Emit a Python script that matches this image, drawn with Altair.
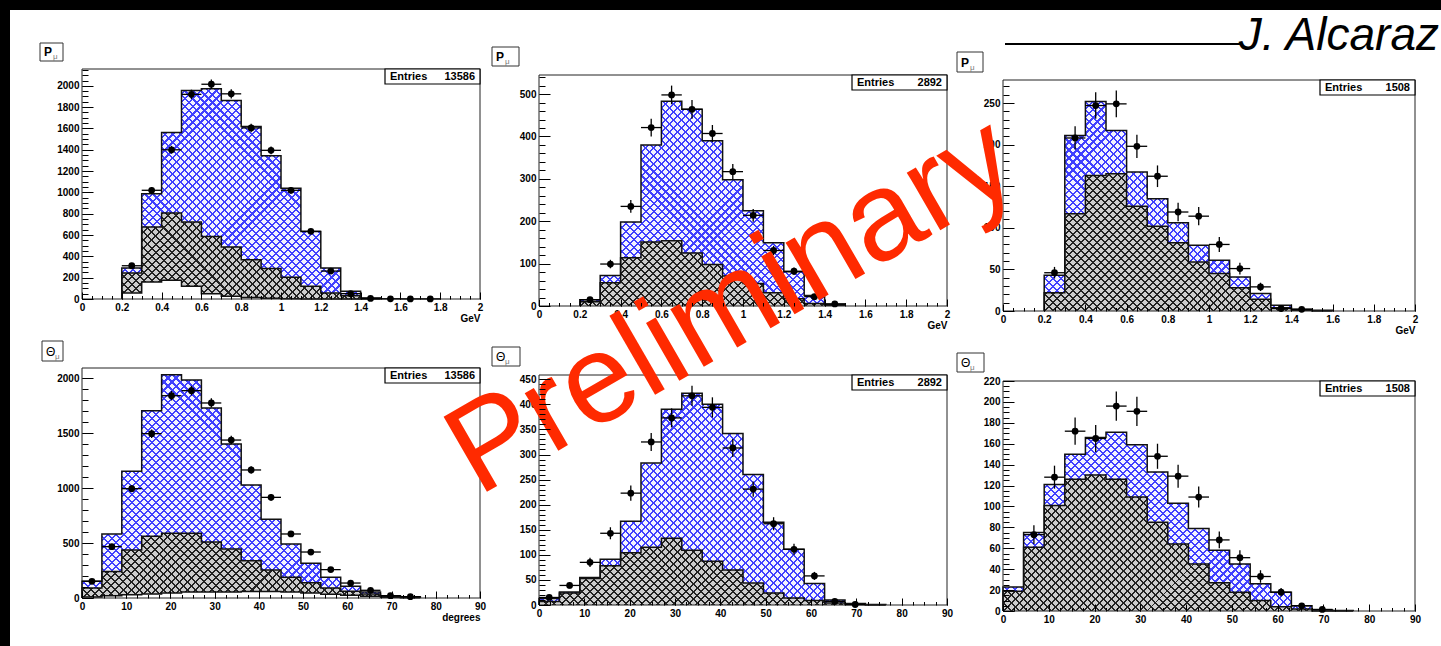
import altair as alt
import pandas as pd

W, H = 1441, 646
FONT = "Liberation Sans"
CLEAR = "rgba(255,255,255,0)"
HATCH_STEP = 8.0  # horizontal distance between hatch lines (px)

# ------------------------------------------------------------------ data
P_START, P_WIDTH = 0.2, 0.1      # momentum binning (GeV)
TH_START, TH_WIDTH = 0.0, 4.5    # polar-angle binning (degrees)

entries = [13586, 2892, 1508]

# momentum, full sample
p1_total = [290, 987, 1562, 1956, 1972, 1862, 1619, 1344, 1040, 634, 290, 72, 9]
p1_bkg = [244, 675, 806, 722, 587, 487, 369, 287, 203, 119, 56, 31, 5]
p1_low = [56, 160, 175, 119, 50, 25, 15, 6, 3, 0, 0, 0, 0]
p1_x = [0.25, 0.35, 0.45, 0.55, 0.65, 0.75, 0.85, 0.95, 1.05, 1.15, 1.25, 1.35, 1.45, 1.55, 1.65, 1.75]
p1_data = [312, 1020, 1400, 1920, 2015, 1925, 1605, 1395, 1020, 635, 262, 50, 5, 2, 1, 1]
p1_err = [18, 32, 37, 44, 45, 44, 40, 37, 32, 25, 16, 7, 2, 1.4, 1, 1]

# momentum, second sample
p2_total = [15, 72, 198, 380, 483, 464, 390, 298, 225, 149, 81, 25, 4]
p2_bkg = [10, 55, 114, 151, 154, 125, 98, 71, 53, 31, 17, 6, 2]
p2_x = [0.25, 0.35, 0.45, 0.55, 0.65, 0.75, 0.85, 0.95, 1.05, 1.15, 1.25, 1.35, 1.45]
p2_data = [15, 99, 235, 421, 498, 464, 407, 317, 214, 131, 82, 22, 5]
p2_err = [4, 10, 15, 21, 22, 22, 20, 18, 15, 11, 9, 5, 2]

# momentum, third sample
p3_total = [43, 211, 252, 217, 167, 135, 106, 79, 61, 41, 21, 7, 2, 1]
p3_bkg = [22, 117, 163, 165, 126, 102, 82, 59, 45, 28, 14, 4, 1, 0]
p3_x = [0.25, 0.35, 0.45, 0.55, 0.65, 0.75, 0.85, 0.95, 1.05, 1.15, 1.25, 1.35, 1.45]
p3_data = [46, 208, 247, 249, 198, 162, 119, 114, 80, 51, 29, 3, 2]
p3_err = [7, 14, 16, 16, 14, 13, 11, 11, 9, 7, 5, 2, 1]

# polar angle, full sample
t1_total = [152, 582, 1152, 1703, 2030, 1982, 1727, 1400, 1027, 715, 491, 315, 188, 106, 55, 21, 12]
t1_bkg = [91, 242, 436, 561, 588, 588, 509, 445, 339, 255, 188, 139, 91, 61, 36, 15, 8]
t1_low = [9, 21, 30, 36, 45, 55, 55, 55, 58, 58, 55, 45, 33, 24, 15, 6, 3]
t1_x = [2.25, 6.75, 11.25, 15.75, 20.25, 24.75, 29.25, 33.75, 38.25, 42.75, 47.25, 51.75,
        56.25, 60.75, 65.25, 69.75, 74.25]
t1_data = [152, 467, 994, 1494, 1839, 1885, 1773, 1436, 1164, 915, 582, 418, 258, 136, 70, 21, 12]
t1_err = [12, 22, 32, 39, 43, 43, 42, 38, 34, 30, 24, 20, 16, 12, 8, 5, 3]

# polar angle, second sample
t2_total = [13, 26, 55, 91, 167, 283, 390, 422, 400, 342, 260, 165, 111, 43, 10, 3, 1]
t2_bkg = [7, 24, 53, 78, 104, 115, 133, 109, 87, 70, 44, 24, 14, 9, 4, 1, 0]
t2_x = [2.25, 6.75, 11.25, 15.75, 20.25, 24.75, 29.25, 33.75, 38.25, 42.75, 47.25, 51.75,
        56.25, 60.75, 65.25, 69.75]
t2_data = [15, 39, 85, 143, 223, 325, 373, 417, 394, 313, 231, 162, 111, 58, 7, 1]
t2_err = [4, 6, 9, 12, 15, 18, 19, 20, 20, 18, 15, 13, 11, 8, 3, 1]

# polar angle, third sample
t3_total = [23, 75, 121, 150, 166, 171, 159, 133, 103, 79, 58, 45, 26, 18, 5, 1, 0.5]
t3_bkg = [19, 61, 101, 126, 130, 126, 109, 85, 64, 45, 27, 18, 10, 4, 2, 0, 0]
t3_x = [6.75, 11.25, 15.75, 20.25, 24.75, 29.25, 33.75, 38.25, 42.75, 47.25, 51.75,
        56.25, 60.75, 65.25, 69.75]
t3_data = [73, 128, 172, 165, 196, 191, 148, 129, 109, 68, 51, 33, 18, 5, 1.5]
t3_err = [9, 11, 13, 13, 14, 14, 12, 11, 10, 8, 7, 6, 4, 2, 1]


# ---------------------------------------------------------------- layout
def ticks(step, top):
    n = int(top / step + 1e-9)
    return [round(k * step, 6) for k in range(n + 1)]


P_MAJOR, P_MINOR = ticks(0.2, 2), ticks(0.05, 2)
T_MAJOR, T_MINOR = ticks(10, 90), ticks(2.5, 90)

panels = [
    dict(sym="P", frame=(82, 480, 69, 299), box=(40, 43, 63, 61), xdom=[0, 2], ymax=2158,
         ystep=200, yminor=50, start=P_START, width=P_WIDTH, total=p1_total, bkg=p1_bkg,
         low=p1_low, xc=p1_x, data=p1_data, err=p1_err, entries=entries[0], xtitle="GeV"),
    dict(sym="P", frame=(539, 947, 75, 306), box=(492, 47, 519, 66), xdom=[0, 2], ymax=545,
         ystep=100, yminor=20, start=P_START, width=P_WIDTH, total=p2_total, bkg=p2_bkg,
         low=None, xc=p2_x, data=p2_data, err=p2_err, entries=entries[1], xtitle="GeV"),
    dict(sym="P", frame=(1003, 1415, 80, 311), box=(957, 52, 983, 72), xdom=[0, 2], ymax=277.7,
         ystep=50, yminor=10, start=P_START, width=P_WIDTH, total=p3_total, bkg=p3_bkg,
         low=None, xc=p3_x, data=p3_data, err=p3_err, entries=entries[2], xtitle="GeV"),
    dict(sym="\u0398", frame=(82, 480, 368, 598), box=(42, 341, 63, 361), xdom=[0, 90], ymax=2091,
         ystep=500, yminor=100, start=TH_START, width=TH_WIDTH, total=t1_total, bkg=t1_bkg,
         low=t1_low, xc=t1_x, data=t1_data, err=t1_err, entries=entries[0], xtitle="degrees"),
    dict(sym="\u0398", frame=(539, 947, 375, 605), box=(492, 347, 520, 366), xdom=[0, 90], ymax=458.5,
         ystep=50, yminor=10, start=TH_START, width=TH_WIDTH, total=t2_total, bkg=t2_bkg,
         low=None, xc=t2_x, data=t2_data, err=t2_err, entries=entries[1], xtitle=None),
    dict(sym="\u0398", frame=(1003, 1415, 381, 611), box=(957, 353, 984, 372), xdom=[0, 90], ymax=220,
         ystep=20, yminor=5, start=TH_START, width=TH_WIDTH, total=t3_total, bkg=t3_bkg,
         low=None, xc=t3_x, data=t3_data, err=t3_err, entries=entries[2], xtitle=None),
]


# --------------------------------------------------------------- helpers
def step_area(start, width, vals):
    n = len(vals)
    edges = [start + i * width for i in range(n + 1)]
    return pd.DataFrame({"x": edges, "y": list(vals) + [vals[-1]], "base": 0.0})


def step_outline(start, width, vals, series):
    n = len(vals)
    edges = [start + i * width for i in range(n + 1)]
    xs = [edges[0]] + edges + [edges[-1]]
    ys = [0.0] + list(vals) + [vals[-1], 0.0]
    return pd.DataFrame({"x": xs, "y": ys, "i": range(len(xs)), "series": series})


def stripe_fill(color, box_w, box_h, forward, frac):
    """45-degree stripes inside a mark's bounding box of box_w x box_h pixels."""
    n = max(4, round((box_w + box_h) / HATCH_STEP))
    stops = []
    for i in range(n):
        a, b = i / n, (i + frac) / n
        stops += [alt.GradientStop(color=CLEAR, offset=a), alt.GradientStop(color=color, offset=a),
                  alt.GradientStop(color=color, offset=b), alt.GradientStop(color=CLEAR, offset=b)]
    k = (box_w + box_h) / (box_w ** 2 + box_h ** 2)
    if forward:
        return alt.LinearGradient(gradient="linear", stops=stops, x1=0, y1=0,
                                  x2=k * box_w, y2=k * box_h)
    return alt.LinearGradient(gradient="linear", stops=stops, x1=0, y1=1,
                              x2=k * box_w, y2=1 - k * box_h)


def label_df(text):
    return pd.DataFrame({"t": [text]})


def px_text(text, x, y, **style):
    return alt.Chart(label_df(text)).mark_text(font=FONT, **style).encode(
        x=alt.value(x), y=alt.value(y), text="t:N")


def px_box(l, t, r, b, **style):
    return alt.Chart(label_df("")).mark_rect(**style).encode(
        x=alt.value(l), x2=alt.value(r), y=alt.value(t), y2=alt.value(b))


def panel_layers(pn):
    L, R, T, B = pn["frame"]
    xmin, xmax = pn["xdom"]
    xsc = alt.Scale(domain=[xmin, xmax], range=[L, R], nice=False, zero=False)
    ysc = alt.Scale(domain=[0, pn["ymax"]], range=[B, T], nice=False, zero=False)

    def X(f, axis=None):
        return alt.X(f"{f}:Q", scale=xsc, axis=axis)

    def Y(f, axis=None):
        return alt.Y(f"{f}:Q", scale=ysc, axis=axis)

    px_x = (R - L) / (xmax - xmin)
    px_y = (B - T) / pn["ymax"]
    out = []

    # hatched stacked histograms
    hists = [(pn["total"], "#f3f3ff", "#4040ff", 0.27),
             (pn["bkg"], "#cdcdcd", "#222222", 0.25)]
    for vals, base, ink, frac in hists:
        adf = step_area(pn["start"], pn["width"], vals)
        bw = (adf["x"].max() - adf["x"].min()) * px_x
        bh = max(vals) * px_y
        enc = dict(x=X("x"), y=Y("y"), y2="base:Q")
        out.append(alt.Chart(adf).mark_area(interpolate="step-after", fill=base, opacity=1,
                                            strokeWidth=0).encode(**enc))
        for fwd in (True, False):
            out.append(alt.Chart(adf).mark_area(interpolate="step-after", opacity=1, strokeWidth=0,
                                                fill=stripe_fill(ink, bw, bh, fwd, frac)).encode(**enc))
    if pn["low"]:
        ldf = step_area(pn["start"], pn["width"], pn["low"])
        out.append(alt.Chart(ldf).mark_area(interpolate="step-after", fill="white", opacity=1,
                                            strokeWidth=0).encode(x=X("x"), y=Y("y"), y2="base:Q"))

    # histogram outlines
    parts = [step_outline(pn["start"], pn["width"], pn["total"], "total"),
             step_outline(pn["start"], pn["width"], pn["bkg"], "bkg")]
    if pn["low"]:
        parts.append(step_outline(pn["start"], pn["width"], pn["low"], "low"))
    odf = pd.concat(parts, ignore_index=True)
    out.append(alt.Chart(odf).mark_line(interpolate="step-after", color="#111111", strokeWidth=1.5).encode(
        x=X("x"), y=Y("y"), detail="series:N", order="i:Q"))

    # frame with labelled axes
    fdf = pd.DataFrame({"x0": [xmin], "x1": [xmax], "y0": [0.0], "y1": [pn["ymax"]]})
    lab = dict(labelFont=FONT, labelFontSize=10, labelFontWeight="bold", labelColor="black",
               labelPadding=3, ticks=False, tickSize=0, domain=False, grid=False,
               labelFlush=False, labelOverlap=False)
    is_p = pn["sym"] == "P"
    xmajor = P_MAJOR if is_p else T_MAJOR
    xminor = P_MINOR if is_p else T_MINOR
    if pn["xtitle"]:
        ttl = dict(title=pn["xtitle"], titleX=R, titleY=22, titleAlign="right", titleBaseline="alphabetic",
                   titleFont=FONT, titleFontSize=10, titleFontWeight="bold", titleColor="black")
    else:
        ttl = dict(title=None)
    x_lab = alt.Axis(orient="bottom", offset=B - H, values=xmajor, format="~r" if is_p else "d",
                     **lab, **ttl)
    y_lab = alt.Axis(orient="left", offset=-L, values=ticks(pn["ystep"], pn["ymax"]), format="d",
                     title=None, **lab)
    out.append(alt.Chart(fdf).mark_rect(fillOpacity=0, stroke="#222222", strokeWidth=1).encode(
        x=X("x0", x_lab), x2="x1:Q", y=Y("y0", y_lab), y2="y1:Q"))

    # inward-pointing major / minor ticks
    tk = dict(labels=False, domain=False, grid=False, ticks=True, tickColor="black", tickWidth=1,
              title=None, zindex=1)
    for xv, xsz, yv, ysz in [(xmajor, 7, ticks(pn["ystep"], pn["ymax"]), 11),
                             (xminor, 3.5, ticks(pn["yminor"], pn["ymax"]), 6)]:
        xa = alt.Axis(orient="top", offset=-B, values=xv, tickSize=xsz, **tk)
        ya = alt.Axis(orient="right", offset=L - W, values=yv, tickSize=ysz, **tk)
        out.append(alt.Chart(fdf).mark_rect(opacity=0).encode(
            x=X("x0", xa), x2="x1:Q", y=Y("y0", ya), y2="y1:Q"))

    # data points with error bars
    half = pn["width"] / 2
    pdf = pd.DataFrame({"x": pn["xc"], "y": pn["data"], "e": pn["err"]})
    pdf["xlo"] = pdf["x"] - half
    pdf["xhi"] = pdf["x"] + half
    pdf["ylo"] = (pdf["y"] - pdf["e"]).clip(lower=0)
    pdf["yhi"] = pdf["y"] + pdf["e"]
    out.append(alt.Chart(pdf).mark_rule(color="black", strokeWidth=1.3).encode(
        x=X("xlo"), x2="xhi:Q", y=Y("y")))
    out.append(alt.Chart(pdf).mark_rule(color="black", strokeWidth=1.3).encode(
        x=X("x"), y=Y("ylo"), y2="yhi:Q"))
    out.append(alt.Chart(pdf).mark_circle(size=46, color="black", opacity=1).encode(
        x=X("x"), y=Y("y")))

    # statistics box
    out.append(px_box(R - 95, T, R, T + 15, fill="white", stroke="black", strokeWidth=1.2))
    out.append(px_text("Entries", R - 90, T + 8, fontSize=11, fontWeight="bold", align="left",
                       baseline="middle", color="black"))
    out.append(px_text(str(pn["entries"]), R - 5, T + 8, fontSize=11, fontWeight="bold",
                       align="right", baseline="middle", color="black"))

    # histogram title box
    bl, bt, br, bb = pn["box"]
    out.append(px_box(bl, bt, br, bb, fill="white", stroke="#333333", strokeWidth=1))
    out.append(px_text(pn["sym"], bl + 4, bb - 5, fontSize=12,
                       fontWeight="bold" if is_p else "normal", align="left",
                       baseline="alphabetic", color="black"))
    out.append(px_text("\u03bc", bl + 13, bb - 2, fontSize=8, align="left",
                       baseline="alphabetic", color="#777777"))
    return out


layers = []
for pn in panels:
    layers += panel_layers(pn)

# slide frame, author line and watermark
layers.append(px_box(0, 0, W, 10, fill="black"))
layers.append(px_box(0, 0, 10, H, fill="black"))
layers.append(alt.Chart(label_df("")).mark_rule(color="black", strokeWidth=2).encode(
    x=alt.value(1005), x2=alt.value(1240), y=alt.value(44)))
layers.append(px_text("J. Alcaraz", 1439, 50, fontSize=46, fontStyle="italic", align="right",
                      baseline="alphabetic", color="black"))
layers.append(px_text("Preliminary", 478, 497, fontSize=126, angle=330, align="left",
                      baseline="alphabetic", color="#ff2a00"))

chart = (
    alt.layer(*layers)
    .resolve_scale(x="independent", y="independent")
    .resolve_axis(x="independent", y="independent")
    .properties(width=W, height=H, autosize="none", padding=0, background="white")
    .configure_view(strokeWidth=0)
)

chart.save("out.html", embed_options={"renderer": "svg", "actions": False})
